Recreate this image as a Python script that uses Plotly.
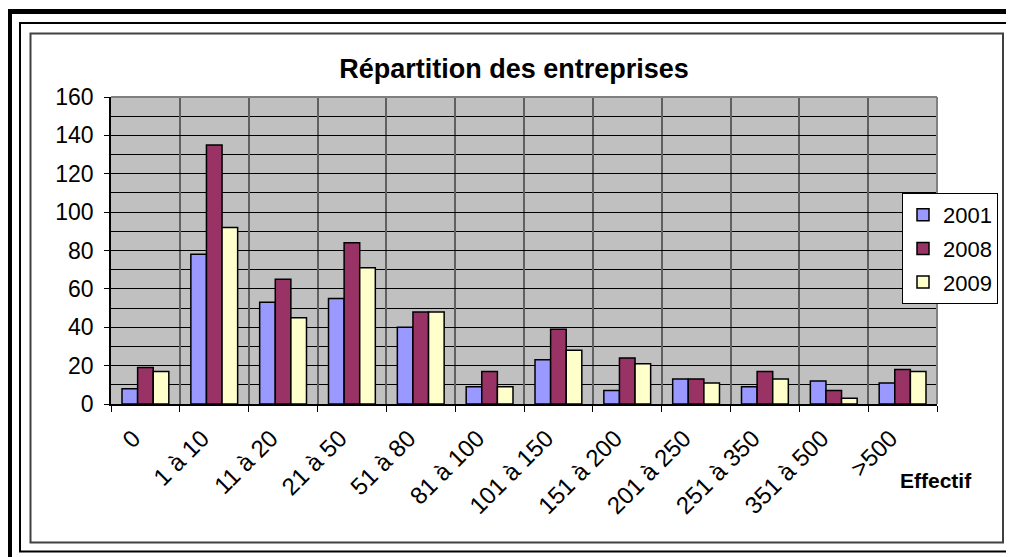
import plotly.graph_objects as go

categories = ["0", "1 à 10", "11 à 20", "21 à 50", "51 à 80", "81 à 100",
              "101 à 150", "151 à 200", "201 à 250", "251 à 350", "351 à 500", ">500"]
v2001 = [8, 78, 53, 55, 40, 9, 23, 7, 13, 9, 12, 11]
v2008 = [19, 135, 65, 84, 48, 17, 39, 24, 13, 17, 7, 18]
v2009 = [17, 92, 45, 71, 48, 9, 28, 21, 11, 13, 3, 17]
years = ["2001", "2008", "2009"]

# the page body adds an 8px margin, so the figure is 8px smaller and
# every screen position below is shifted back by OFF
OFF = 8
W, H = 1014 - OFF, 557 - OFF
L, T = 111 - OFF, 97 - OFF
R, B = W - (937 - OFF), H - (404 - OFF)
PW, PH = W - L - R, H - T - B
FONT = "Arial, Liberation Sans, sans-serif"


def px(x):
    return (x - OFF - L) / PW


def py(y):
    return 1 - (y - OFF - T) / PH


fig = go.Figure()

colors = ["#9999FF", "#993366", "#FFFFCC"]
for name, vals, col in zip(years, [v2001, v2008, v2009], colors):
    fig.add_trace(
        go.Bar(
            x=categories,
            y=vals,
            name=name,
            legendgroup=name,
            marker=dict(color=col, line=dict(color="black", width=1.5)),
        )
    )

# frames around the chart
frames = [
    (9.5, 11.5, 1030, 570, 5, "black"),
    (20, 23, 1012.5, 551.5, 2, "black"),
    (30.5, 33.5, 1003, 542.5, 2, "#404040"),
]
for x0, y0, x1, y1, w, c in frames:
    fig.add_shape(type="rect", xref="paper", yref="paper",
                  x0=px(x0), x1=px(x1), y0=py(y0), y1=py(y1),
                  line=dict(color=c, width=w), layer="above")

# gray top/right border of the plot area
fig.add_shape(type="line", xref="x domain", yref="y domain", x0=0, x1=1, y0=1, y1=1,
              line=dict(color="#808080", width=2))
fig.add_shape(type="line", xref="x domain", yref="y domain", x0=1, x1=1, y0=0, y1=1,
              line=dict(color="#808080", width=2))

fig.add_annotation(text="<b>Effectif</b>", xref="paper", yref="paper",
                   x=px(936), y=py(480), xanchor="center", yanchor="middle",
                   showarrow=False,
                   font=dict(family=FONT, size=21, color="black"))

fig.update_layout(
    width=W, height=H,
    margin=dict(l=L, r=R, t=T, b=B),
    paper_bgcolor="white",
    plot_bgcolor="#C0C0C0",
    barmode="group",
    bargap=0.32,
    bargroupgap=0,
    font=dict(family=FONT, size=21, color="black"),
    title=dict(text="<b>Répartition des entreprises</b>",
               x=(514 - OFF) / W, xref="container", xanchor="center",
               y=1 - (69 - OFF) / H, yref="container", yanchor="middle",
               font=dict(family=FONT, size=27, color="black")),
    legend=dict(x=px(902), y=py(193), xanchor="left", yanchor="top",
                bgcolor="white", bordercolor="black", borderwidth=1,
                font=dict(family=FONT, size=22, color="black"),
                traceorder="grouped", tracegroupgap=2),
)

fig.update_xaxes(
    tickson="boundaries",
    showgrid=True, gridcolor="#606060", gridwidth=1.5,
    showline=True, linecolor="black", linewidth=1.5,
    ticks="outside", ticklen=6, tickcolor="black",
    tickangle=-45,
    ticklabelshift=-12, ticklabelstandoff=9,
    tickfont=dict(family=FONT, size=24, color="black"),
)
fig.update_yaxes(
    range=[0, 160], dtick=20,
    showgrid=True, gridcolor="black", gridwidth=1,
    minor=dict(dtick=10, showgrid=True, gridcolor="black", gridwidth=1),
    zeroline=False,
    showline=True, linecolor="black", linewidth=1.5,
    ticks="outside", ticklen=5, tickcolor="black",
    ticklabelstandoff=6,
    tickfont=dict(family=FONT, size=23, color="black"),
)

fig.write_html("out.html")
